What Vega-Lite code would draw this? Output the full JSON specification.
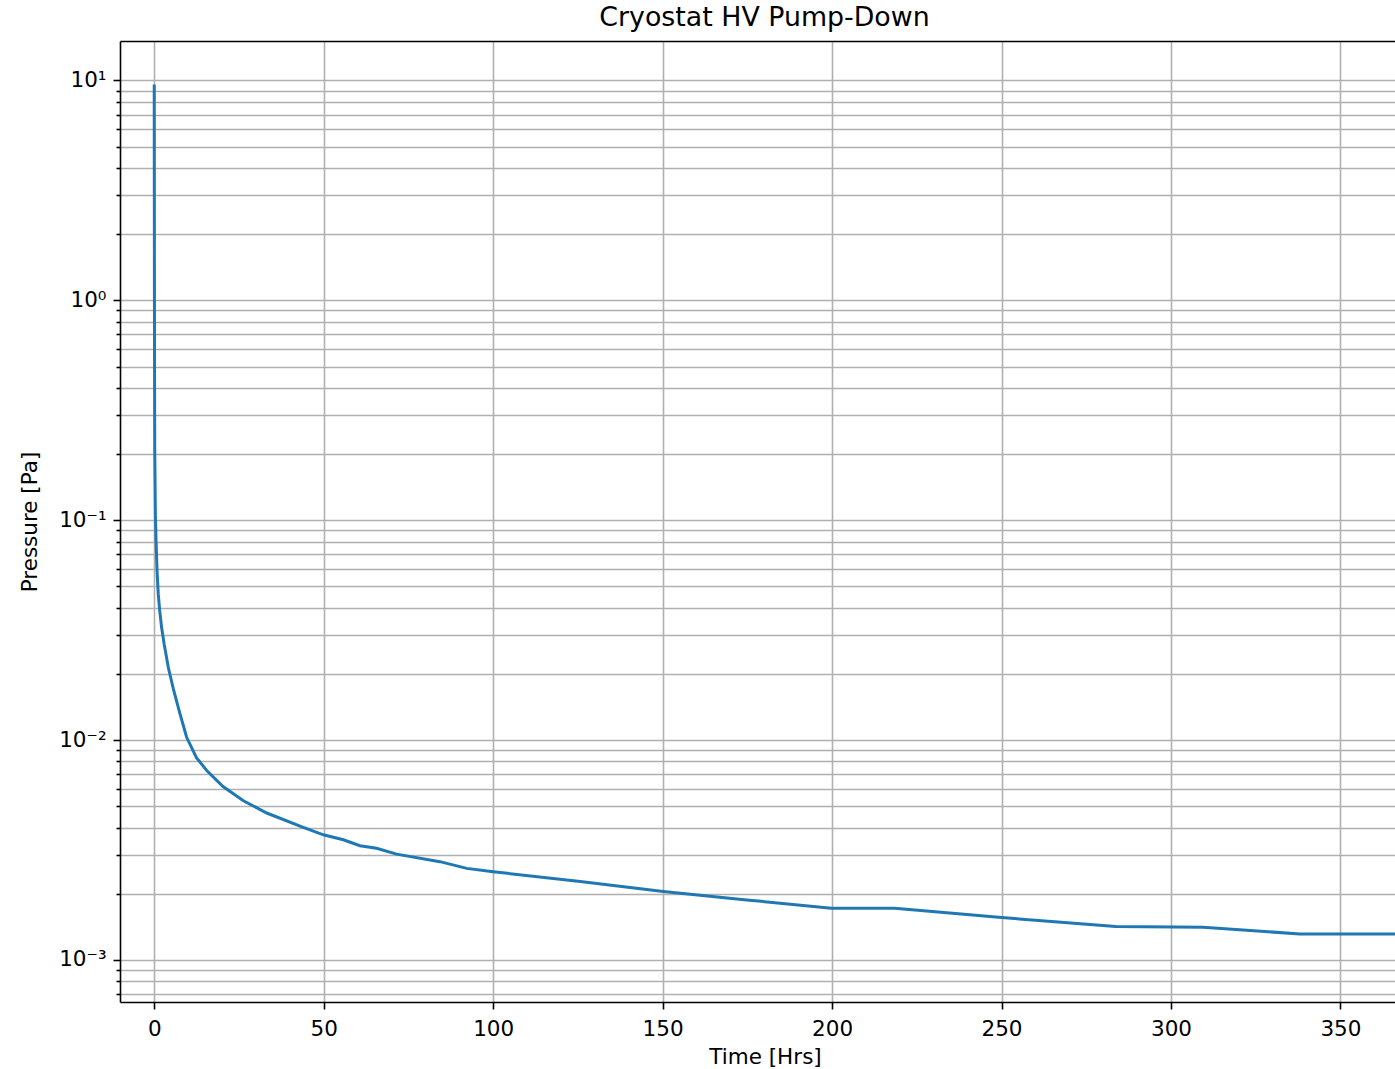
{
  "$schema": "https://vega.github.io/schema/vega-lite/v6.json",
  "width": 1275,
  "height": 961,
  "autosize": {"type": "none"},
  "padding": {"left": 120, "top": 41, "right": 0, "bottom": 67},
  "background": "white",
  "title": {"text": "Cryostat HV Pump-Down", "font": "DejaVu Sans", "fontSize": 26.8, "fontWeight": "normal", "color": "#000000", "anchor": "middle", "offset": 12, "baseline": "alphabetic", "dx": 7, "dy": 24},
  "config": {
    "view": {"stroke": null},
    "axis": {
      "labelFont": "DejaVu Sans", "labelFontSize": 21.5, "labelColor": "#000000",
      "titleFont": "DejaVu Sans", "titleFontSize": 21.5, "titleFontWeight": "normal", "titleColor": "#000000",
      "domainColor": "#000000", "domainWidth": 1.6,
      "tickColor": "#000000", "tickWidth": 1.6, "tickSize": 7,
      "labelPadding": 7,
      "gridColor": "#b0b0b0", "gridWidth": 1.6, "gridOpacity": 1
    }
  },
  "data": {"values": [
    {"t": 0, "p": 9.6},
    {"t": 0.03, "p": 3.0},
    {"t": 0.06, "p": 1.0},
    {"t": 0.1, "p": 0.45},
    {"t": 0.15, "p": 0.209},
    {"t": 0.35, "p": 0.1035},
    {"t": 0.6, "p": 0.075},
    {"t": 0.85, "p": 0.058},
    {"t": 1.2, "p": 0.046},
    {"t": 1.6, "p": 0.039},
    {"t": 2.18, "p": 0.0325},
    {"t": 2.95, "p": 0.0272},
    {"t": 4.13, "p": 0.0215},
    {"t": 5.6, "p": 0.0172},
    {"t": 7.58, "p": 0.0132},
    {"t": 9.56, "p": 0.0103},
    {"t": 12.5, "p": 0.0083},
    {"t": 15.7, "p": 0.00721},
    {"t": 20.3, "p": 0.00615},
    {"t": 26.3, "p": 0.0053},
    {"t": 33.2, "p": 0.00466},
    {"t": 43.2, "p": 0.00405},
    {"t": 49.9, "p": 0.00371},
    {"t": 55.8, "p": 0.00352},
    {"t": 60.7, "p": 0.00331},
    {"t": 65.6, "p": 0.00322},
    {"t": 71.5, "p": 0.00303},
    {"t": 84.3, "p": 0.0028},
    {"t": 92.2, "p": 0.00261},
    {"t": 100, "p": 0.00252},
    {"t": 125.7, "p": 0.002275},
    {"t": 150.2, "p": 0.00205},
    {"t": 174.8, "p": 0.001876},
    {"t": 199.8, "p": 0.00172},
    {"t": 218.5, "p": 0.00172},
    {"t": 250, "p": 0.00156},
    {"t": 283.7, "p": 0.00142},
    {"t": 309.5, "p": 0.00141},
    {"t": 338, "p": 0.001313},
    {"t": 366.1, "p": 0.001313}
  ]},
  "layer": [
    {
      "mark": {"type": "line", "color": "#1f77b4", "strokeWidth": 3, "clip": true},
      "encoding": {
        "x": {"field": "t", "type": "quantitative",
          "scale": {"domain": [-10.1, 366.1], "nice": false, "zero": false},
          "axis": {"orient": "bottom", "values": [0, 50, 100, 150, 200, 250, 300, 350], "grid": true, "labelPadding": 9, "title": "Time [Hrs]", "titleX": 645, "titleY": 61.5, "titleBaseline": "alphabetic"}},
        "y": {"field": "p", "type": "quantitative",
          "scale": {"type": "log", "domain": [0.000644, 15.12], "nice": false},
          "axis": {"orient": "left", "values": [0.001, 0.01, 0.1, 1, 10], "grid": true,
            "labelExpr": "datum.value >= 5 ? '10¹' : datum.value >= 0.5 ? '10⁰' : datum.value >= 0.05 ? '10⁻¹' : datum.value >= 0.005 ? '10⁻²' : '10⁻³'",
            "title": "Pressure [Pa]", "titleX": -90, "titleY": 480.5, "titleAngle": -90, "titleBaseline": "middle", "titleAlign": "center"}}
      }
    },
    {
      "mark": {"type": "line", "opacity": 0},
      "encoding": {
        "x": {"field": "t", "type": "quantitative",
          "axis": {"orient": "top", "ticks": false, "labels": false, "grid": false, "title": null, "domain": true}},
        "y": {"field": "p", "type": "quantitative",
          "axis": {"orient": "left", "values": [0.0007, 0.0008, 0.0009, 0.002, 0.003, 0.004, 0.005, 0.006, 0.007, 0.008, 0.009, 0.02, 0.03, 0.04, 0.05, 0.06, 0.07, 0.08, 0.09, 0.2, 0.3, 0.4, 0.5, 0.6, 0.7, 0.8, 0.9, 2, 3, 4, 5, 6, 7, 8, 9],
            "labels": false, "tickSize": 4, "grid": true, "title": null, "domain": false}}
      }
    }
  ],
  "resolve": {"axis": {"x": "independent", "y": "independent"}}
}
